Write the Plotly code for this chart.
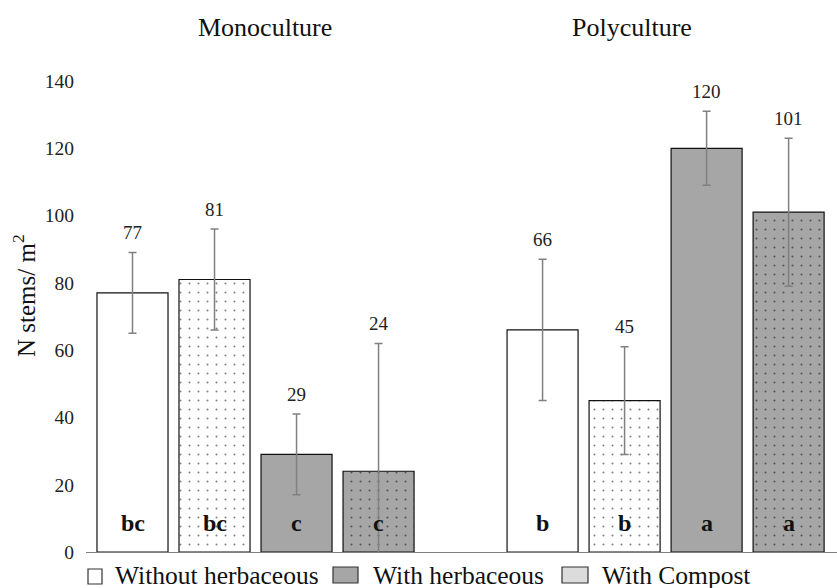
import plotly.graph_objects as go

# Bar positions: monoculture group at 0-3, polyculture group at 5-8
groups = ["Monoculture", "Polyculture"]
y_ticks = [0, 20, 40, 60, 80, 100, 120, 140]
legend_labels = ["Without herbaceous", "With herbaceous", "With Compost"]

# series: without herbaceous (plain), without herbaceous + compost,
# with herbaceous (plain), with herbaceous + compost
x_without = [0, 5]
x_without_compost = [1, 6]
x_with = [2, 7]
x_with_compost = [3, 8]

stems_without = [77, 66]
stems_without_compost = [81, 45]
stems_with = [29, 120]
stems_with_compost = [24, 101]

err_without = [12, 21]
err_without_compost = [15, 16]
err_with = [12, 11]
err_with_compost = [38, 22]

letters_without = ["bc", "b"]
letters_without_compost = ["bc", "b"]
letters_with = ["c", "a"]
letters_with_compost = ["c", "a"]

FONT = "Liberation Serif, Times New Roman, serif"
GREY = "#a6a6a6"
ERR = "#808080"
INK = "#111111"
BAR_W = 0.866

# plot-area geometry in pixels, used to place the paper-referenced extras
L, R, T, B, W, H = 86, 0, 81, 36, 837, 588
PW, PH = W - L - R, H - T - B


def px_x(px):
    return (px - L) / PW


def px_y(py):
    return (H - B - py) / PH


dots = dict(shape=".", fgcolor="#000000", size=9, solidity=0.04)

fig = go.Figure()

series = [
    ("Without herbaceous", x_without, stems_without, err_without, "white", None),
    ("Without herbaceous + Compost", x_without_compost, stems_without_compost, err_without_compost, "white", dots),
    ("With herbaceous", x_with, stems_with, err_with, GREY, None),
    ("With herbaceous + Compost", x_with_compost, stems_with_compost, err_with_compost, GREY, dots),
]

for name, xs, ys, es, color, pat in series:
    marker = dict(color=color, line=dict(color=INK, width=1.2))
    if pat is not None:
        marker["pattern"] = dict(pat, bgcolor=color)
    fig.add_trace(go.Bar(
        name=name, x=xs, y=ys, width=BAR_W, marker=marker, showlegend=False,
        error_y=dict(type="data", array=es, visible=True, color=ERR,
                     thickness=1.5, width=4),
    ))

# value labels above the error bars
for xs, ys, es in [(x_without, stems_without, err_without),
                   (x_without_compost, stems_without_compost, err_without_compost),
                   (x_with, stems_with, err_with),
                   (x_with_compost, stems_with_compost, err_with_compost)]:
    for x, y, e in zip(xs, ys, es):
        fig.add_annotation(x=x, y=y + e, text=str(y), showarrow=False,
                           xanchor="center", yanchor="middle", yshift=20,
                           font=dict(family=FONT, size=19, color="#222222"))

# significance letters at the base of the bars
for xs, labs in [(x_without, letters_without),
                 (x_without_compost, letters_without_compost),
                 (x_with, letters_with),
                 (x_with_compost, letters_with_compost)]:
    for x, lab in zip(xs, labs):
        fig.add_annotation(x=x, y=0, text=f"<b>{lab}</b>", showarrow=False,
                           xanchor="center", yanchor="middle", yshift=29,
                           font=dict(family=FONT, size=24, color=INK))

# group headings
for gx, g in zip([265, 632], groups):
    fig.add_annotation(xref="paper", yref="paper", x=px_x(gx), y=px_y(27), text=g,
                       xanchor="center", yanchor="middle", showarrow=False,
                       font=dict(family=FONT, size=26, color=INK))

# y-axis title
fig.add_annotation(xref="paper", yref="paper", x=px_x(24), y=px_y(296),
                   xanchor="center", yanchor="middle",
                   text="N stems/ m<sup>2</sup>", textangle=-90, showarrow=False,
                   font=dict(family=FONT, size=25, color=INK))

# legend row along the bottom edge
legend_boxes = [((88, 569, 102, 584), "white"),
                ((333, 567, 358, 583), GREY),
                ((562, 567, 588, 583), "#dcdcdc")]
legend_text_x = [115, 373, 602]
for ((x0, y0, x1, y1), fill), tx, lab in zip(legend_boxes, legend_text_x, legend_labels):
    fig.add_shape(type="rect", xref="paper", yref="paper",
                  x0=px_x(x0), x1=px_x(x1), y0=px_y(y0), y1=px_y(y1),
                  fillcolor=fill, line=dict(color="#333333", width=1.2))
    fig.add_annotation(xref="paper", yref="paper", x=px_x(tx - 2), y=px_y(575),
                       xanchor="left", yanchor="middle", text=lab, showarrow=False,
                       font=dict(family=FONT, size=25.5, color=INK))

fig.update_layout(
    width=W, height=H,
    margin=dict(l=L, r=R, t=T, b=B, autoexpand=False),
    plot_bgcolor="white", paper_bgcolor="white",
    barmode="overlay", showlegend=False,
    font=dict(family=FONT, color=INK),
    xaxis=dict(range=[-0.567, 8.59], showticklabels=False, ticks="",
               showgrid=False, zeroline=False, showline=True,
               linecolor="#7f7f7f", linewidth=1.2),
    yaxis=dict(range=[0, 140], tickvals=y_ticks, showgrid=False, zeroline=False,
               showline=False, ticks="outside", ticklen=7, tickcolor="rgba(0,0,0,0)",
               tickfont=dict(family=FONT, size=19.5, color="#222222")),
)

fig.write_html("out.html")
